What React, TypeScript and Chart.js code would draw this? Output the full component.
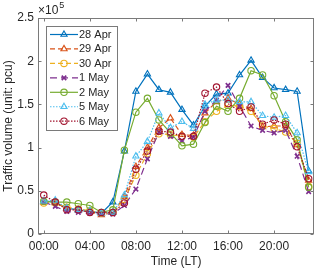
import React, { useEffect, useRef } from 'react';
import { Chart, registerables } from 'chart.js';

Chart.register(...registerables);

// Hours of day (local time)
const hours = [0, 1, 2, 3, 4, 5, 6, 7, 8, 9, 10, 11, 12, 13, 14, 15, 16, 17, 18, 19, 20, 21, 22, 23];
const xTickHours = [0, 4, 8, 12, 16, 20];
const xTickLabels = ['00:00', '04:00', '08:00', '12:00', '16:00', '20:00'];
const yTickValues = [0, 0.5, 1, 1.5, 2, 2.5];
const yTickLabels = ['0', '0.5', '1', '1.5', '2', '2.5'];

const seriesLabels = ['28 Apr', '29 Apr', '30 Apr', '1 May', '2 May', '5 May', '6 May'];

// Traffic volume in units of 10^5 pcu
const apr28 = [0.38, 0.37, 0.30, 0.28, 0.26, 0.24, 0.37, 0.96, 1.65, 1.85, 1.67, 1.64, 1.44, 1.26, 1.48, 1.62, 1.63, 1.84, 2.01, 1.81, 1.69, 1.67, 1.65, 0.73];
const apr29 = [0.37, 0.36, 0.30, 0.28, 0.26, 0.22, 0.25, 0.43, 0.78, 1.00, 1.23, 1.34, 1.15, 1.14, 1.40, 1.53, 1.57, 1.50, 1.45, 1.24, 1.25, 1.25, 1.03, 0.62];
const apr30 = [0.36, 0.36, 0.31, 0.29, 0.27, 0.24, 0.25, 0.40, 0.68, 0.93, 1.16, 1.15, 1.13, 1.12, 1.30, 1.42, 1.49, 1.48, 1.42, 1.25, 1.22, 1.18, 1.05, 0.55];
const may1 = [0.37, 0.32, 0.26, 0.25, 0.24, 0.23, 0.23, 0.33, 0.52, 0.87, 1.18, 1.13, 1.08, 1.12, 1.42, 1.55, 1.72, 1.48, 1.25, 1.20, 1.17, 1.20, 0.90, 0.49];
const may2 = [0.38, 0.37, 0.37, 0.35, 0.33, 0.25, 0.28, 0.97, 1.41, 1.57, 1.32, 1.17, 1.02, 1.04, 1.29, 1.48, 1.42, 1.57, 1.89, 1.84, 1.60, 1.30, 1.09, 0.54];
const may5 = [0.38, 0.39, 0.30, 0.28, 0.27, 0.24, 0.25, 0.45, 0.90, 1.07, 1.40, 1.23, 1.30, 1.22, 1.50, 1.55, 1.55, 1.53, 1.53, 1.37, 1.35, 1.37, 1.17, 0.72];
const may6 = [0.45, 0.37, 0.28, 0.28, 0.25, 0.25, 0.25, 0.36, 0.75, 0.96, 1.19, 1.18, 1.13, 1.13, 1.63, 1.70, 1.51, 1.42, 1.47, 1.27, 1.32, 1.27, 1.01, 0.64];

const seriesValues = [apr28, apr29, apr30, may1, may2, may5, may6];
const seriesColors = ['#0072BD', '#D95319', '#EDB120', '#7E2F8E', '#77AC30', '#4DBEEE', '#A2142F'];
const seriesDashes: number[][] = [[], [5, 3], [5, 3], [7, 4], [], [1.5, 1.5], [1.5, 1.5]];
const seriesMarkers = ['triangle', 'triangle', 'circle', 'crossRot', 'circle', 'triangle', 'circle'];

const FONT = "'Liberation Sans', Arial, Helvetica, sans-serif";
const TEXT = '#262626';
const AXIS = '#7a7a7a';

function drawMarker(ctx: CanvasRenderingContext2D, style: string, r: number, x: number, y: number) {
  ctx.beginPath();
  if (style === 'circle') {
    ctx.arc(x, y, r, 0, Math.PI * 2);
    ctx.closePath();
  } else if (style === 'triangle') {
    let rad = 0;
    ctx.moveTo(x + Math.sin(rad) * r, y - Math.cos(rad) * r);
    rad += (2 * Math.PI) / 3;
    ctx.lineTo(x + Math.sin(rad) * r, y - Math.cos(rad) * r);
    rad += (2 * Math.PI) / 3;
    ctx.lineTo(x + Math.sin(rad) * r, y - Math.cos(rad) * r);
    ctx.closePath();
  } else {
    const rad = Math.PI / 4;
    const cx = Math.cos(rad) * r;
    const sy = Math.sin(rad) * r;
    ctx.moveTo(x - cx, y - sy);
    ctx.lineTo(x + cx, y + sy);
    ctx.moveTo(x + sy, y - cx);
    ctx.lineTo(x - sy, y + cx);
  }
  ctx.stroke();
}

const matlabPlugin = {
  id: 'matlabAxes',
  afterDraw(chart: any) {
    const { ctx, chartArea: a, scales } = chart;
    ctx.save();
    ctx.strokeStyle = AXIS;
    ctx.lineWidth = 1;
    ctx.setLineDash([]);
    const L = Math.round(a.left) + 0.5;
    const R = Math.round(a.right) - 0.5;
    const T = Math.round(a.top) + 0.5;
    const B = Math.round(a.bottom) - 0.5;
    ctx.strokeRect(L, T, R - L, B - T);
    const tl = 3;
    ctx.beginPath();
    scales.x.ticks.forEach((t: any) => {
      const px = Math.round(scales.x.getPixelForValue(t.value)) + 0.5;
      ctx.moveTo(px, B); ctx.lineTo(px, B - tl);
      ctx.moveTo(px, T); ctx.lineTo(px, T + tl);
    });
    scales.y.ticks.forEach((t: any) => {
      const py = Math.round(scales.y.getPixelForValue(t.value)) + 0.5;
      ctx.moveTo(L, py); ctx.lineTo(L + tl, py);
      ctx.moveTo(R, py); ctx.lineTo(R - tl, py);
    });
    ctx.stroke();

    // Exponent label
    ctx.fillStyle = TEXT;
    ctx.textBaseline = 'middle';
    ctx.textAlign = 'left';
    ctx.font = `12px ${FONT}`;
    ctx.fillText('\u00d710', a.left, 11);
    const w = ctx.measureText('\u00d710').width;
    ctx.font = `9px ${FONT}`;
    ctx.fillText('5', a.left + w + 1, 6);

    // Legend
    const lx = 46, ly = 26, lw = 72, lh = 105;
    ctx.fillStyle = '#ffffff';
    ctx.fillRect(lx, ly, lw, lh);
    ctx.strokeStyle = AXIS;
    ctx.strokeRect(lx + 0.5, ly + 0.5, lw - 1, lh - 1);
    chart.data.datasets.forEach((ds: any, i: number) => {
      const y = 34.5 + i * 14.45;
      ctx.save();
      ctx.strokeStyle = ds.borderColor;
      ctx.lineWidth = ds.borderWidth;
      ctx.setLineDash(ds.borderDash || []);
      ctx.beginPath();
      ctx.moveTo(50, y);
      ctx.lineTo(78, y);
      ctx.stroke();
      ctx.setLineDash([]);
      ctx.lineWidth = ds.pointBorderWidth;
      drawMarker(ctx, ds.pointStyle, ds.pointRadius, 64, y);
      ctx.restore();
      ctx.fillStyle = TEXT;
      ctx.font = `11px ${FONT}`;
      ctx.textAlign = 'left';
      ctx.textBaseline = 'middle';
      ctx.fillText(ds.label, 79, y + 0.5);
    });
    ctx.restore();
  },
};

export default function App() {
  const ref = useRef<HTMLCanvasElement>(null);
  useEffect(() => {
    document.body.style.margin = '0';
    const datasets = seriesLabels.map((label, i) => ({
      label,
      data: hours.map((h, j) => ({ x: h, y: seriesValues[i][j] })),
      borderColor: seriesColors[i],
      backgroundColor: 'rgba(0,0,0,0)',
      borderWidth: 1.2,
      borderDash: seriesDashes[i],
      pointStyle: seriesMarkers[i],
      pointRadius: seriesMarkers[i] === 'triangle' ? 3.6 : 3.2,
      pointBorderWidth: seriesMarkers[i] === 'crossRot' ? 1.6 : 1.1,
      pointBorderColor: seriesColors[i],
      pointBackgroundColor: 'rgba(0,0,0,0)',
      tension: 0,
      order: seriesLabels.length - i,
    }));
    const chart = new Chart(ref.current as HTMLCanvasElement, {
      type: 'line',
      data: { datasets },
      plugins: [matlabPlugin],
      options: {
        responsive: false,
        animation: false,
        maintainAspectRatio: false,
        layout: { padding: { top: 18, right: 3, left: 0, bottom: 0 } },
        plugins: { legend: { display: false }, tooltip: { enabled: false } },
        scales: {
          x: {
            type: 'linear',
            min: -0.5,
            max: 23.5,
            grid: { display: false, drawTicks: false },
            border: { display: false },
            afterBuildTicks: (s: any) => {
              s.ticks = xTickHours.map((v) => ({ value: v }));
            },
            afterFit: (s: any) => {
              s.height = 37;
            },
            ticks: {
              padding: 5.5,
              color: TEXT,
              font: { family: FONT, size: 12 },
              maxRotation: 0,
              autoSkip: false,
              callback: (v: any) => xTickLabels[xTickHours.indexOf(Number(v))] ?? '',
            },
            title: {
              display: true,
              text: 'Time (LT)',
              color: TEXT,
              font: { family: FONT, size: 12 },
              padding: { top: 0, bottom: 2 },
            },
          },
          y: {
            type: 'linear',
            min: 0,
            max: 2.5,
            grid: { display: false, drawTicks: false },
            border: { display: false },
            afterBuildTicks: (s: any) => {
              s.ticks = yTickValues.map((v) => ({ value: v }));
            },
            afterFit: (s: any) => {
              s.width = 38;
            },
            ticks: {
              padding: 4,
              color: TEXT,
              font: { family: FONT, size: 12 },
              autoSkip: false,
              callback: (v: any) => yTickLabels[yTickValues.indexOf(Number(v))] ?? '',
            },
            title: {
              display: true,
              text: 'Traffic volume (unit: pcu)',
              color: TEXT,
              font: { family: FONT, size: 12 },
              padding: { top: 1, bottom: 0 },
            },
          },
        },
      },
    } as any);
    return () => chart.destroy();
  }, []);
  return (
    <div style={{ width: 320, height: 271 }}>
      <canvas ref={ref} width={320} height={271} style={{ display: 'block' }} />
    </div>
  );
}
